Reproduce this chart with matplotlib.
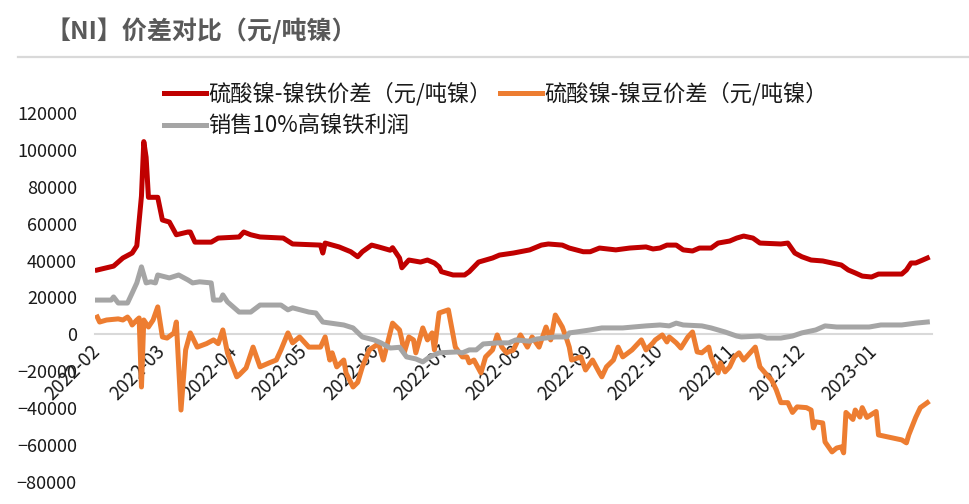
import matplotlib
matplotlib.use("Agg")
import matplotlib.pyplot as plt  # noqa: E402
import matplotlib.dates as mdates  # noqa: E402
from matplotlib.lines import Line2D  # noqa: E402
from matplotlib.ticker import FuncFormatter, MultipleLocator  # noqa: E402
import pandas as pd  # noqa: E402

plt.rcParams['font.family'] = ['Noto Sans CJK SC', 'DejaVu Sans']

TITLE = "【NI】价差对比（元/吨镍）"
LABEL_RED = "硫酸镍-镍铁价差（元/吨镍）"
LABEL_ORANGE = "硫酸镍-镍豆价差（元/吨镍）"
LABEL_GRAY = "销售10%高镍铁利润"

# 硫酸镍-镍铁价差
red_dates = [
    "2022-02-01", "2022-02-08", "2022-02-12", "2022-02-16", "2022-02-18", "2022-02-20",
    "2022-02-21", "2022-02-22", "2022-02-23", "2022-02-27", "2022-03-01", "2022-03-04",
    "2022-03-07", "2022-03-12", "2022-03-13", "2022-03-15", "2022-03-22", "2022-03-25",
    "2022-04-03", "2022-04-05", "2022-04-08", "2022-04-12", "2022-04-22", "2022-04-26",
    "2022-05-08", "2022-05-09", "2022-05-10", "2022-05-16", "2022-05-21", "2022-05-24",
    "2022-05-26", "2022-05-30", "2022-06-02", "2022-06-07", "2022-06-08", "2022-06-11",
    "2022-06-12", "2022-06-15", "2022-06-20", "2022-06-23", "2022-06-26", "2022-06-28",
    "2022-06-29", "2022-07-04", "2022-07-09", "2022-07-11", "2022-07-15", "2022-07-21",
    "2022-07-24", "2022-07-30", "2022-08-06", "2022-08-11", "2022-08-14", "2022-08-20",
    "2022-08-23", "2022-08-29", "2022-09-01", "2022-09-05", "2022-09-12", "2022-09-18",
    "2022-09-25", "2022-09-28", "2022-10-01", "2022-10-04", "2022-10-08", "2022-10-11",
    "2022-10-15", "2022-10-18", "2022-10-23", "2022-10-26", "2022-10-31", "2022-11-03",
    "2022-11-06", "2022-11-10", "2022-11-13", "2022-11-22", "2022-11-25", "2022-11-28",
    "2022-12-01", "2022-12-05", "2022-12-10", "2022-12-14", "2022-12-18", "2022-12-21",
    "2022-12-24", "2022-12-27", "2022-12-31", "2023-01-03", "2023-01-13", "2023-01-15",
    "2023-01-17", "2023-01-19", "2023-01-22", "2023-01-24",
]
red_vals = [
    34900, 37000, 41400, 44100, 48000, 75000,
    104500, 96000, 74300, 74300, 62000, 60900,
    54000, 55500, 55500, 50000, 50000, 52200,
    52800, 55500, 54000, 52800, 52200, 49000,
    48400, 44100, 49500, 47400, 44800, 42100,
    44800, 48400, 47400, 45600, 47000, 41400,
    36100, 40300, 39200, 40300, 38700, 36600,
    34000, 32200, 32200, 34000, 39200, 41400,
    43000, 44100, 45800, 48400, 49000, 48400,
    46800, 44800, 44800, 46800, 45800, 46800,
    47400, 46300, 46800, 48400, 48400, 45800,
    45200, 46800, 46800, 49500, 50600, 52200,
    53300, 52200, 49500, 49000, 49500, 44100,
    42100, 40300, 39800, 38700, 37600, 34900,
    33300, 31600, 31100, 32700, 32700, 34900,
    38700, 38700, 40300, 41400,
]

# 硫酸镍-镍豆价差
orange_dates = [
    "2022-02-01", "2022-02-02", "2022-02-05", "2022-02-10", "2022-02-12", "2022-02-14",
    "2022-02-15", "2022-02-16", "2022-02-18", "2022-02-19", "2022-02-20", "2022-02-21",
    "2022-02-23", "2022-02-25", "2022-02-27", "2022-03-01", "2022-03-03", "2022-03-06",
    "2022-03-07", "2022-03-09", "2022-03-11", "2022-03-13", "2022-03-16", "2022-03-20",
    "2022-03-23", "2022-03-25", "2022-03-27", "2022-03-29", "2022-04-02", "2022-04-03",
    "2022-04-06", "2022-04-09", "2022-04-12", "2022-04-16", "2022-04-19", "2022-04-21",
    "2022-04-24", "2022-04-26", "2022-04-29", "2022-05-03", "2022-05-08", "2022-05-10",
    "2022-05-12", "2022-05-13", "2022-05-15", "2022-05-18", "2022-05-19", "2022-05-22",
    "2022-05-24", "2022-05-26", "2022-05-29", "2022-06-02", "2022-06-04", "2022-06-08",
    "2022-06-11", "2022-06-12", "2022-06-13", "2022-06-15", "2022-06-17", "2022-06-18",
    "2022-06-21", "2022-06-23", "2022-06-25", "2022-06-26", "2022-06-28", "2022-07-02",
    "2022-07-05", "2022-07-08", "2022-07-10", "2022-07-11", "2022-07-13", "2022-07-16",
    "2022-07-18", "2022-07-21", "2022-07-23", "2022-07-25", "2022-07-27", "2022-07-30",
    "2022-08-02", "2022-08-05", "2022-08-07", "2022-08-10", "2022-08-13", "2022-08-15",
    "2022-08-17", "2022-08-20", "2022-08-22", "2022-08-23", "2022-08-24", "2022-08-28",
    "2022-08-30", "2022-09-02", "2022-09-05", "2022-09-06", "2022-09-08", "2022-09-11",
    "2022-09-13", "2022-09-15", "2022-09-19", "2022-09-23", "2022-09-25", "2022-09-28",
    "2022-09-29", "2022-10-02", "2022-10-04", "2022-10-05", "2022-10-08", "2022-10-10",
    "2022-10-13", "2022-10-15", "2022-10-17", "2022-10-19", "2022-10-22", "2022-10-23",
    "2022-10-26", "2022-10-27", "2022-10-29", "2022-10-31", "2022-11-02", "2022-11-04",
    "2022-11-06", "2022-11-08", "2022-11-11", "2022-11-13", "2022-11-16", "2022-11-18",
    "2022-11-20", "2022-11-22", "2022-11-25", "2022-11-27", "2022-11-29", "2022-12-03",
    "2022-12-05", "2022-12-06", "2022-12-07", "2022-12-10", "2022-12-11", "2022-12-14",
    "2022-12-16", "2022-12-18", "2022-12-19", "2022-12-20", "2022-12-23", "2022-12-24",
    "2022-12-26", "2022-12-27", "2022-12-29", "2023-01-02", "2023-01-03", "2023-01-13",
    "2023-01-15", "2023-01-16", "2023-01-19", "2023-01-21", "2023-01-24",
]
orange_vals = [
    9400, 6700, 7800, 8400, 7800, 9400,
    7800, 5100, 7800, 8900, -28500, 7800,
    4000, 7800, 14900, -1400, -2000, 800,
    6700, -41000, -8400, 800, -6900, -5000,
    -3000, -5000, 2400, -10000, -23000, -22000,
    -18200, -6900, -17600, -15400, -13900, -8400,
    800, -4600, -1400, -6900, -6900, -1400,
    -13900, -10000, -17600, -13900, -20900, -28500,
    -26000, -17600, -8400, -5000, -13900, 6100,
    2400, -3000, -10000, -1400, -3000, -10000,
    3500, -3000, 800, -8400, 11600, 13300,
    -6900, -12200, -12200, -15400, -13900, -20900,
    -12200, -8400, -300, -6900, -10000, -8400,
    -300, -6900, -1400, -6900, 4000, -3000,
    10500, 4000, -3000, -6900, -13900, -12200,
    -19300, -13900, -20900, -23000, -17600, -13900,
    -6900, -12200, -8400, -3000, -8400, -4600,
    -3000, -300, -4100, -1400, -4600, -7400,
    -1400, 1300, -9500, -10000, -6900, -12200,
    -20900, -15400, -20300, -17600, -12200, -10000,
    -13900, -11100, -6900, -17600, -22000, -24700,
    -30000, -37000, -37000, -42300, -39300, -39700,
    -41000, -50700, -47400, -48000, -58300, -63700,
    -61600, -61000, -64200, -42300, -46100, -41000,
    -44800, -39700, -45000, -41800, -54500, -57200,
    -58800, -54500, -45000, -39700, -37000,
]

# 销售10%高镍铁利润
gray_dates = [
    "2022-02-01", "2022-02-07", "2022-02-08", "2022-02-10", "2022-02-14", "2022-02-16",
    "2022-02-18", "2022-02-20", "2022-02-22", "2022-02-24", "2022-02-26", "2022-02-27",
    "2022-03-04", "2022-03-08", "2022-03-12", "2022-03-14", "2022-03-17", "2022-03-22",
    "2022-03-23", "2022-03-26", "2022-03-27", "2022-03-29", "2022-04-03", "2022-04-08",
    "2022-04-12", "2022-04-21", "2022-04-24", "2022-04-26", "2022-05-03", "2022-05-06",
    "2022-05-09", "2022-05-18", "2022-05-22", "2022-05-26", "2022-05-31", "2022-06-03",
    "2022-06-07", "2022-06-11", "2022-06-14", "2022-06-18", "2022-06-21", "2022-06-24",
    "2022-06-28", "2022-07-06", "2022-07-08", "2022-07-11", "2022-07-14", "2022-07-17",
    "2022-07-23", "2022-07-28", "2022-07-31", "2022-08-06", "2022-08-09", "2022-08-17",
    "2022-08-22", "2022-08-23", "2022-08-26", "2022-09-01", "2022-09-06", "2022-09-15",
    "2022-09-25", "2022-10-01", "2022-10-05", "2022-10-08", "2022-10-11", "2022-10-19",
    "2022-10-23", "2022-10-29", "2022-11-03", "2022-11-05", "2022-11-13", "2022-11-16",
    "2022-11-22", "2022-11-27", "2022-12-01", "2022-12-07", "2022-12-11", "2022-12-16",
    "2022-12-21", "2022-12-30", "2023-01-04", "2023-01-13", "2023-01-19", "2023-01-24",
]
gray_vals = [
    18600, 18600, 20300, 17000, 17000, 22400,
    27900, 36600, 27900, 28500, 27900, 32200,
    30600, 32200, 29500, 27900, 28500, 27900,
    18600, 18600, 21400, 17600, 12100, 12100,
    15900, 15900, 13300, 14400, 12100, 11600,
    6700, 5100, 3500, -1400, -3000, -4600,
    -7400, -7000, -12200, -13300, -14900, -12200,
    -10000, -9500, -10000, -8400, -8400, -5200,
    -4600, -4600, -3000, -3700, -2500, -1400,
    -1400, 800, 1300, 2400, 3500, 3500,
    4600, 5100, 4600, 6100, 5100, 4600,
    3500, 1300, -900, -1400, -900, -2000,
    -2000, -900, 800, 2400, 4600, 4000,
    4000, 4000, 5100, 5100, 6100, 6700,
]

YTICKS = list(range(-80000, 120001, 20000))
XLIM = ("2022-01-31", "2023-01-26")


def minus_fmt(v, _pos):
    return f"{v:.0f}".replace("-", "\u2212")


fig = plt.figure(figsize=(9.69, 5.04), dpi=100, facecolor="white")
ax = fig.add_axes([0.098, 0.0437, 0.8638, 0.7321])

ax.plot(pd.to_datetime(red_dates), red_vals, color="#C00000", lw=3.6,
        solid_joinstyle="round", label=LABEL_RED)
ax.plot(pd.to_datetime(orange_dates), orange_vals, color="#ED7D31", lw=3.6,
        solid_joinstyle="round", label=LABEL_ORANGE)
ax.plot(pd.to_datetime(gray_dates), gray_vals, color="#A5A5A5", lw=3.6,
        solid_joinstyle="round", label=LABEL_GRAY)

ax.set_ylim(YTICKS[0], YTICKS[-1])
ax.set_xlim(pd.to_datetime(XLIM[0]), pd.to_datetime(XLIM[1]))
ax.yaxis.set_major_locator(MultipleLocator(20000))
ax.yaxis.set_major_formatter(FuncFormatter(minus_fmt))
ax.xaxis.set_major_locator(mdates.MonthLocator())
ax.xaxis.set_major_formatter(mdates.DateFormatter("%Y-%m"))

for side in ("top", "right", "left"):
    ax.spines[side].set_visible(False)
ax.spines["bottom"].set_position(("data", 0))
ax.spines["bottom"].set_color("#D9D9D9")
ax.spines["bottom"].set_linewidth(1.5)
ax.spines["bottom"].set_zorder(0)

ax.tick_params(axis="y", length=0, pad=13, labelsize=13, labelcolor="#1a1a1a")
ax.tick_params(axis="x", length=0, pad=10, labelsize=13.5, labelcolor="#1a1a1a")
for lbl in ax.get_xticklabels():
    lbl.set_rotation(45)
    lbl.set_ha("right")
    lbl.set_va("center")
    lbl.set_rotation_mode("anchor")

# legend: row 1 red / orange, row 2 gray
h = {l.get_label(): l for l in ax.get_lines()}
order = [LABEL_RED, LABEL_GRAY, LABEL_ORANGE]
fig.legend([h[k] for k in order], order, ncol=2, frameon=False,
           loc="upper left", bbox_to_anchor=(164 / 969, 1 - 82 / 504),
           borderpad=0, borderaxespad=0, fontsize=16, handlelength=1.9,
           handletextpad=0.1, columnspacing=0.35, labelspacing=0.4,
           labelcolor="#1a1a1a")

fig.text(45 / 969, 1 - 31 / 504, TITLE, fontsize=18, fontweight="bold",
         color="#595959", ha="left", va="center")
fig.add_artist(Line2D([18 / 969, 1.0], [1 - 57 / 504, 1 - 57 / 504],
                      color="#D9D9D9", lw=1.6))

fig.savefig("out.png", dpi=100, facecolor="white")
